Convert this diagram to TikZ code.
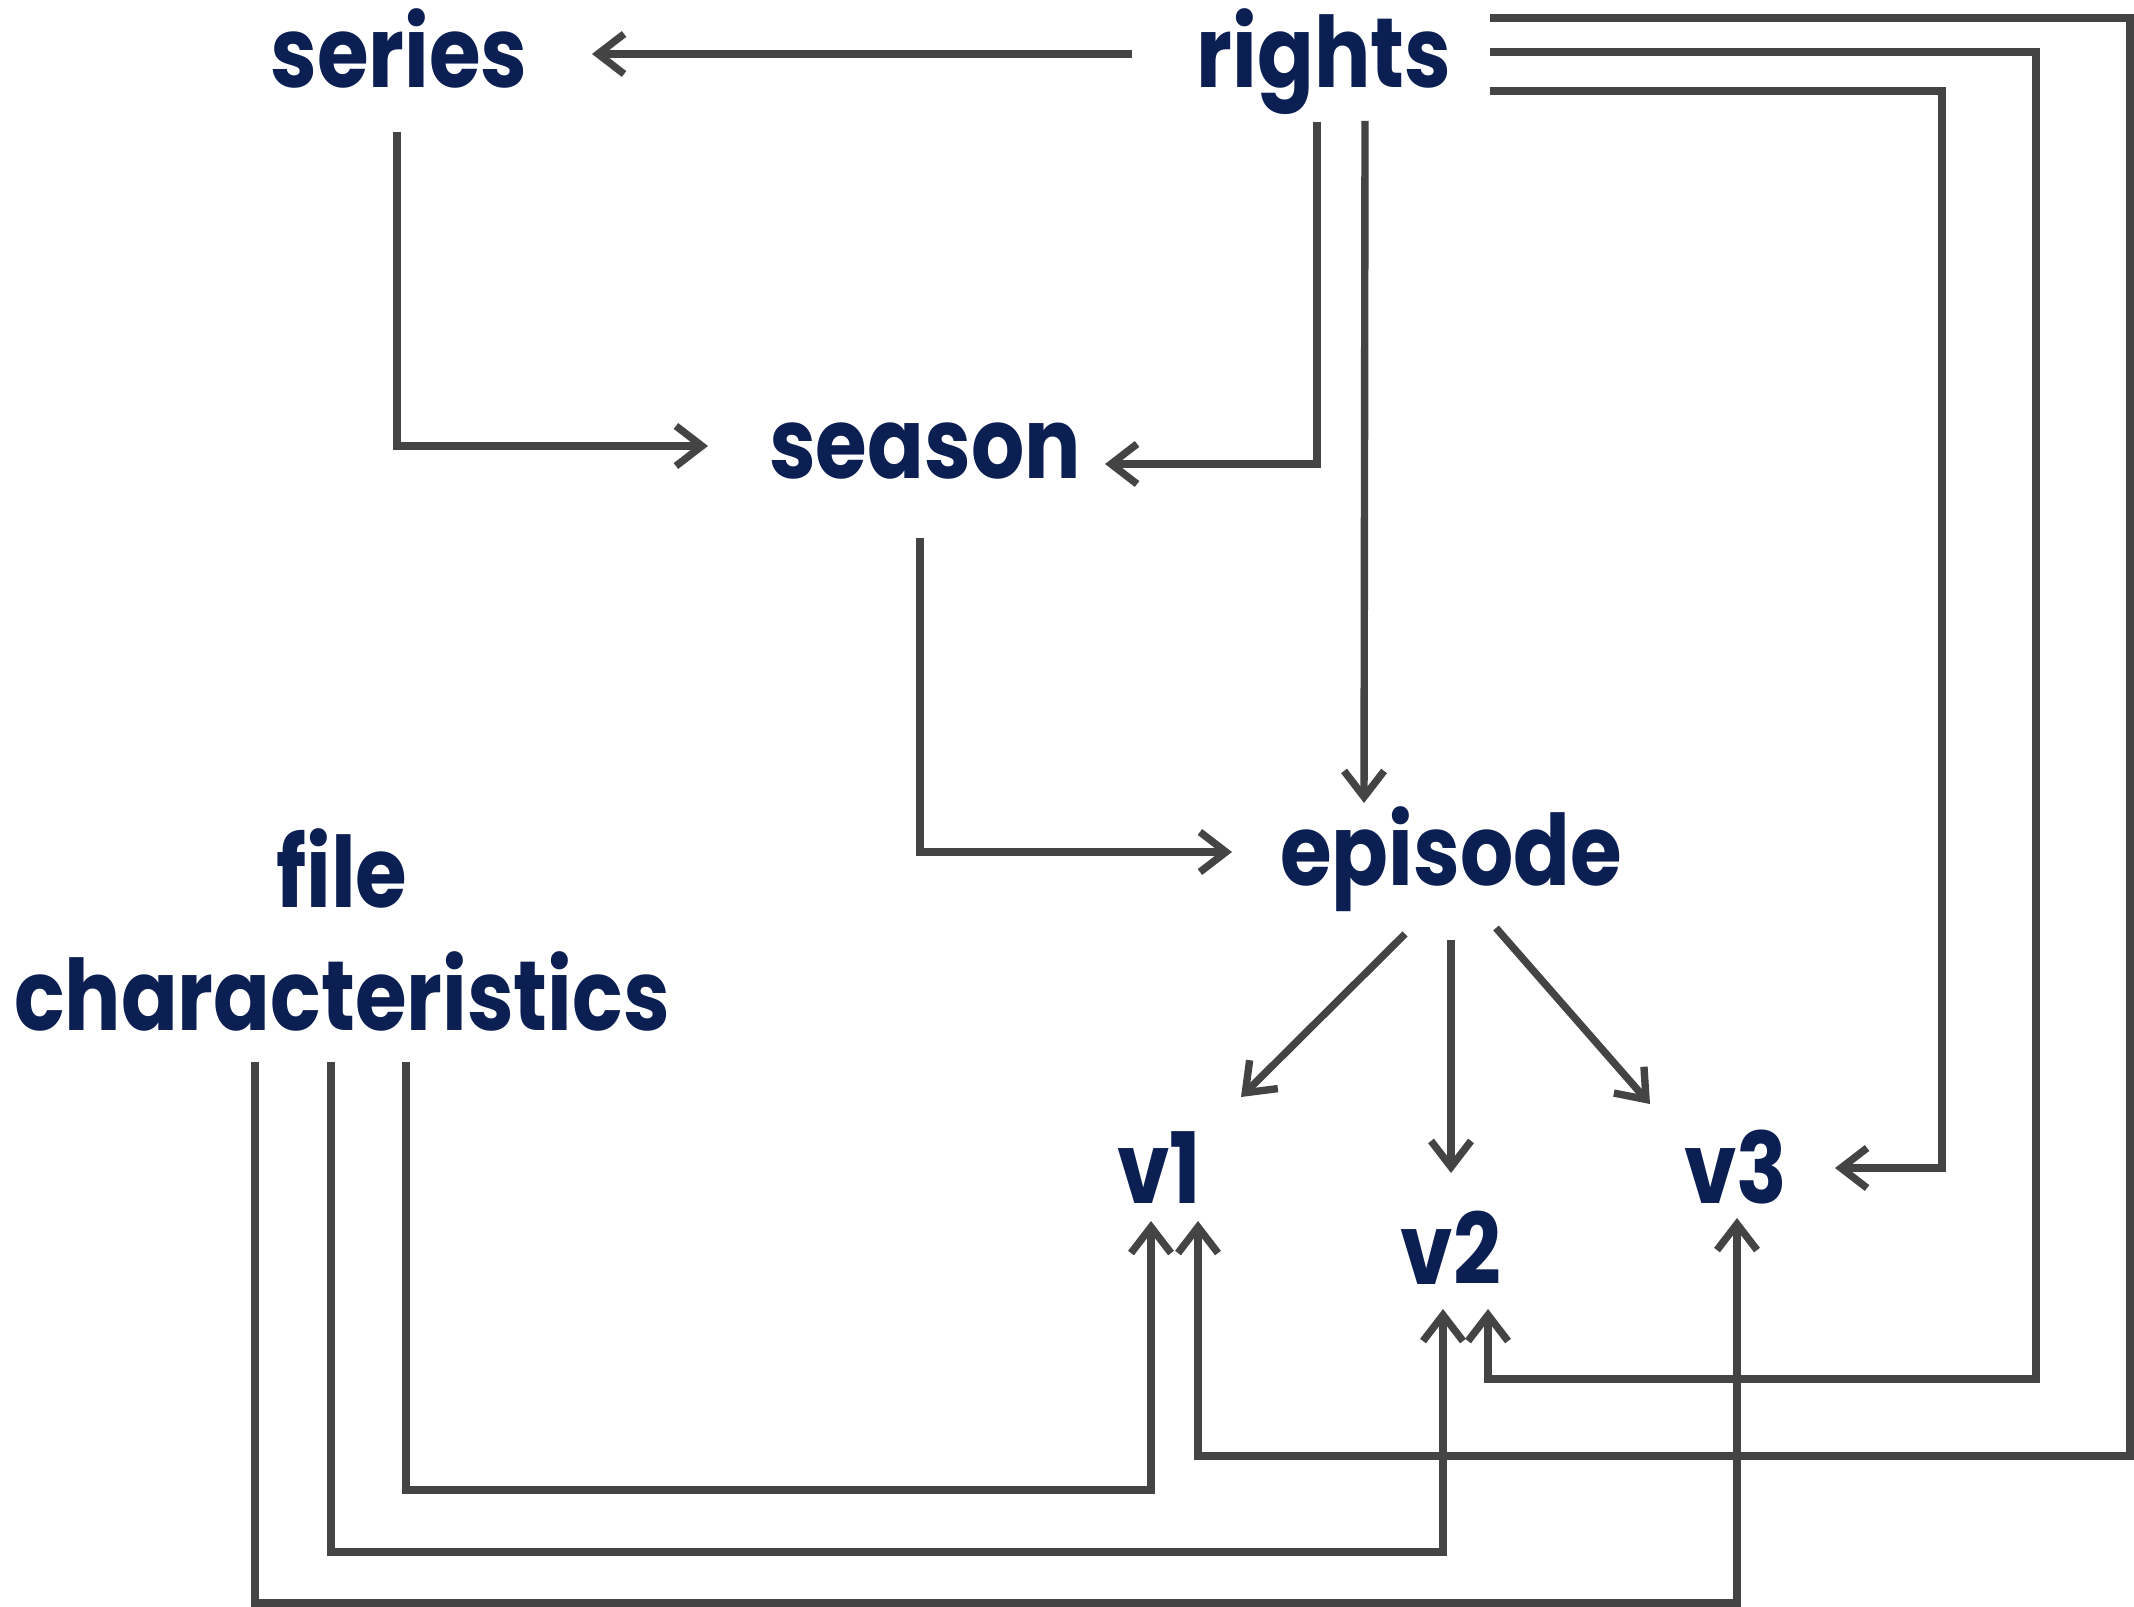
\documentclass[tikz,border=0pt]{standalone}
\usepackage{fontspec}
\setmainfont{Poppins}[FakeStretch=0.85]
\usepackage{tikz}
\usetikzlibrary{arrows.meta, positioning, calc}
\definecolor{navytext}{HTML}{0B1F52}
\definecolor{linkgray}{HTML}{444444}

\begin{document}
\begin{tikzpicture}[x=0.01cm, y=-0.01cm,
    lbl/.style={text=navytext, inner sep=0pt, anchor=base, font=\fontsize{28}{35}\selectfont\bfseries},
    link/.style={draw=linkgray, line width=2.1pt, -{Straight Barb[length=2.6mm, width=4mm]}}]
    \useasboundingbox (0,0) rectangle (2134,1607);
    % Entities
    \node[lbl] (series)  at (399,88)   {series};
    \node[lbl] (rights)  at (1324,88)  {rights};
    \node[lbl] (season)  at (925,479)  {season};
    \node[lbl] (episode) at (1451,885) {episode};
    \node[lbl, anchor=center, align=center] (filechar) at (342,930) {file\\characteristics};
    \node[lbl] (v1) at (1159,1203) {v1};
    \node[lbl] (v2) at (1451,1284) {v2};
    \node[lbl] (v3) at (1736,1203) {v3};
    % Top part
    \draw[link] ($(rights.base)+(-192,-34)$) -- ($(series.base)+(193,-34)$);
    \draw[link] ($(series.base)+(-2,44)$) |- ($(season.base)+(-217,-33)$);
    \draw[link] ($(rights.base)+(-7,34)$) |- ($(season.base)+(180,-15)$);
    \draw[link] ($(rights.base)+(41,33)$) -- ($(episode.base)+(-87,-82)$);
    \draw[link] ($(season.base)+(-5,59)$) |- ($(episode.base)+(-219,-33)$);
    % Episode to versions
    \draw[link] ($(episode.base)+(-46,49)$) -- ($(v1.base)+(82,-106)$);
    \draw[link] ($(episode.base)+(0,55)$) -- ($(v2.base)+(0,-111)$);
    \draw[link] ($(episode.base)+(45,43)$) -- ($(v3.base)+(-86,-99)$);
    % Rights to versions (right side)
    \draw[link] ($(rights.base)+(166,3)$) -- ++(452,0) |- ($(v3.base)+(99,-35)$);
    \draw[link] ($(rights.base)+(166,-36)$) -- ++(546,0) -- ++(0,1327) -| ($(v2.base)+(37,25)$);
    \draw[link] ($(rights.base)+(166,-70)$) -- ++(640,0) -- ++(0,1438) -| ($(v1.base)+(39,18)$);
    % File characteristics to versions (bottom)
    \draw[link] ($(filechar.center)+(64,132)$) -- ++(0,428) -| ($(v1.base)+(-8,18)$);
    \draw[link] ($(filechar.center)+(-11,132)$) -- ++(0,490) -| ($(v2.base)+(-8,25)$);
    \draw[link] ($(filechar.center)+(-87,132)$) -- ++(0,541) -| ($(v3.base)+(1,15)$);
  \end{tikzpicture}
\end{document}
